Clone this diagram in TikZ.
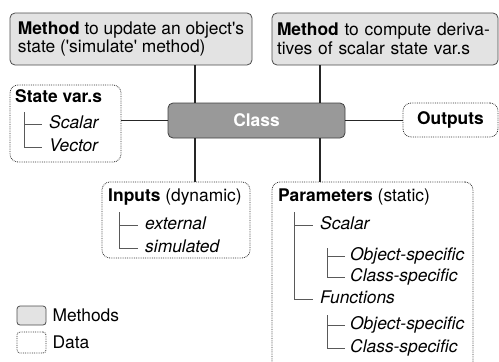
\documentclass[tikz,border=0pt]{standalone}
\usepackage{fontspec}
\setmainfont{TeX Gyre Heros}
\usepackage{tikz}
\usetikzlibrary{positioning}
\newcommand{\sq}{\textquotesingle}
\tikzset{
  box/.style={rectangle, inner sep=0pt, align=left},
  method/.style={box, draw=black!70, line width=0.8pt, fill=gray!22,
                 rounded corners=5pt},
  core/.style={box, draw=black!75, line width=0.8pt, fill=black!40,
               rounded corners=5pt, text=white, font=\bfseries, align=center},
  data/.style={box, draw=black!80, densely dotted, line width=0.8pt,
               rounded corners=8pt},
  head/.style={anchor=west, inner sep=0pt, text height=12.4pt, text depth=3.6pt},
  item/.style={head, font=\itshape},
  link/.style={line width=1.2pt, black!85},
  branch/.style={line width=0.8pt, black!65},
}

\begin{document}
\fontsize{17.4}{18.5}\selectfont
\begin{tikzpicture}[x=1pt, y=-1pt,
  legtxt/.style={right=6pt of #1, inner sep=0pt}
]
  \useasboundingbox (0,0) rectangle (499,362);
  \coordinate (lt) at (195,0);
  \coordinate (rt) at (320,0);

  \node[method, minimum width=242pt, minimum height=52pt] (upd) at (131,39)
    {\textbf{Method} to update an object\sq s\\state (\sq simulate\sq{} method)};
  \node[method, minimum width=226pt, minimum height=52pt, text width=216pt] (der) at (385,39)
    {\textbf{Method} to compute deriva-\\tives of scalar state var.s};
  \node[core, minimum width=177pt, minimum height=35pt] (class) at (256.5,120.5) {Class};
  \node[data, minimum width=95pt, minimum height=34pt, font=\bfseries] (outputs) at (450.5,120) {Outputs};

  \node[data, minimum width=111pt, minimum height=77pt] (sv) at (65.5,123.5) {};
  \node[head, font=\bfseries] (svhead) at (15,98) {State var.s};
  \node[item] (svscalar) at (49,124) {Scalar};
  \node[item] (svvector) at (49,147) {Vector};
  \coordinate (svroot) at (24,112);
  \draw[branch] (svroot) |- ([xshift=-7pt]svscalar.west);
  \draw[branch] (svroot) |- ([xshift=-7pt]svvector.west);

  \node[data, minimum width=148pt, minimum height=76pt] (inp) at (176,220) {};
  \node[head] (inphead) at (108,197) {\textbf{Inputs} (dynamic)};
  \node[item] (inpext) at (145,225) {external};
  \node[item] (inpsim) at (145,248) {simulated};
  \coordinate (inproot) at (119,212);
  \draw[branch] (inproot) |- ([xshift=-7pt]inpext.west);
  \draw[branch] (inproot) |- ([xshift=-7pt]inpsim.west);

  \node[data, minimum width=201pt, minimum height=198pt] (par) at (372.5,281) {};
  \node[head] (parhead) at (278,197) {\textbf{Parameters} (static)};
  \node[item] (parscalar) at (320,225) {Scalar};
  \node[item] (parobj1) at (350,256) {Object-specific};
  \node[item] (parcls1) at (350,277) {Class-specific};
  \node[item] (parfun) at (320,299) {Functions};
  \node[item] (parobj2) at (350,325) {Object-specific};
  \node[item] (parcls2) at (350,348) {Class-specific};
  \coordinate (parroot) at (294,212);
  \coordinate (parsub1) at (327,248);
  \coordinate (parsub2) at (327,315);
  \draw[branch] (parroot) |- ([xshift=-7pt]parscalar.west);
  \draw[branch] (parroot) |- ([xshift=-7pt]parfun.west);
  \draw[branch] (parsub1) |- ([xshift=-5pt]parobj1.west);
  \draw[branch] (parsub1) |- ([xshift=-5pt]parcls1.west);
  \draw[branch] (parsub2) |- ([xshift=-5pt]parobj2.west);
  \draw[branch] (parsub2) |- ([xshift=-5pt]parcls2.west);

  \draw[link] (upd.south -| lt) -- (class.north -| lt);
  \draw[link] (class.south -| lt) -- (inp.north -| lt);
  \draw[link] (der.south -| rt) -- (class.north -| rt);
  \draw[link] (class.south -| rt) -- (par.north -| rt);
  \draw[link] (sv.east |- class.west) -- (class.west);
  \draw[link] (class.east) -- (outputs.west |- class.east);

  \node[method, minimum width=29pt, minimum height=19pt, rounded corners=3pt] (legm) at (31.5,315.5) {};
  \node[legtxt=legm] (legmtxt) {Methods};
  \node[data, minimum width=29pt, minimum height=21pt, rounded corners=3pt] (legd) at (31.5,342.5) {};
  \node[legtxt=legd] (legdtxt) {Data};
\end{tikzpicture}
\end{document}
